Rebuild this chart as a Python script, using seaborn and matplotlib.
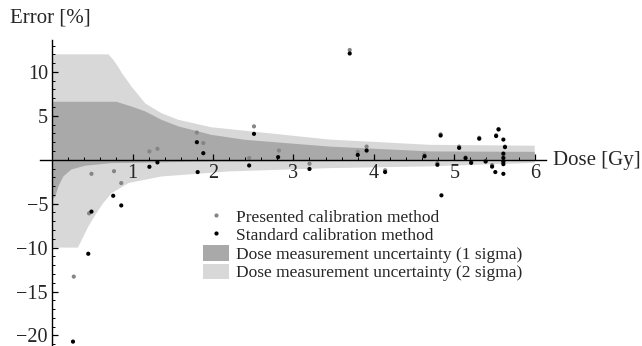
import matplotlib
matplotlib.use("Agg")
import matplotlib.pyplot as plt
from matplotlib.lines import Line2D
from matplotlib.patches import Patch
from matplotlib.ticker import MultipleLocator
import pandas as pd
import seaborn as sns

# presented calibration method (grey points)
presented_dose = [0.27, 0.46, 0.49, 0.77, 0.86, 1.21, 1.31, 1.80, 1.88, 2.45, 2.51,
                  2.82, 3.20, 3.70, 3.80, 3.91, 4.14, 4.63, 4.79, 4.83, 5.06, 5.14,
                  5.21, 5.31, 5.39, 5.47, 5.52, 5.55, 5.61, 5.63, 5.61]
presented_err = [-13.3, -6.1, -1.6, -1.3, -2.65, 0.95, 1.25, 3.1, 1.9, 0.2, 3.8,
                 1.05, -0.45, 12.5, 0.9, 1.5, -1.2, 0.6, -0.4, 2.9, 1.5, 0.3,
                 -0.2, 2.5, -0.1, -0.6, 2.8, 3.5, 0.4, 1.5, -0.3]

# standard calibration method (black points)
standard_dose = [0.26, 0.45, 0.49, 0.76, 0.86, 1.21, 1.31, 1.80, 1.81, 1.88, 2.45,
                 2.51, 2.81, 3.20, 3.70, 3.80, 3.91, 4.14, 4.63, 4.79, 4.83, 4.84,
                 5.06, 5.14, 5.21, 5.31, 5.39, 5.47, 5.51, 5.52, 5.55, 5.61, 5.63,
                 5.61, 5.61, 5.61, 5.61, 5.61]
standard_err = [-20.7, -10.7, -5.9, -4.1, -5.2, -0.8, -0.3, 2.0, -1.4, 0.75, -0.65,
                2.95, 0.3, -1.05, 12.1, 0.55, 1.05, -1.4, 0.4, -0.57, 2.76, -4.05,
                1.35, 0.19, -0.35, 2.4, -0.2, -0.78, -1.4, 2.7, 3.45, 2.3, 1.44,
                0.7, 0.2, -0.2, -0.5, -1.6]

# uncertainty band edges
sig2_up_dose = [0.0, 0.70, 0.76, 0.82, 0.87, 0.99, 1.16, 1.36, 1.57, 1.98, 2.40, 3.45, 4.70, 6.0]
sig2_up_err = [12.0, 12.0, 11.4, 10.6, 9.85, 8.3, 6.4, 5.3, 4.55, 3.7, 3.3, 2.3, 1.7, 1.6]
sig2_lo_dose = [0.0, 0.32, 0.37, 0.45, 0.53, 0.63, 0.74, 0.95, 1.36, 2.19, 3.45, 4.70, 6.0]
sig2_lo_err = [-10.0, -10.0, -9.1, -7.6, -6.4, -5.0, -3.8, -2.65, -1.9, -1.33, -0.95, -0.75, -0.35]

sig1_up_dose = [0.0, 0.80, 0.99, 1.16, 1.36, 1.57, 1.98, 2.40, 3.45, 4.70, 6.0]
sig1_up_err = [6.6, 6.6, 6.06, 5.5, 4.55, 3.8, 2.84, 2.27, 1.5, 0.95, 0.9]
sig1_lo_dose = [0.0, 0.04, 0.08, 0.14, 0.24, 0.41, 0.74, 2.0, 6.0]
sig1_lo_err = [-4.6, -4.2, -3.0, -1.9, -1.1, -0.68, -0.38, -0.2, -0.1]

light = "#d8d8d8"
dark = "#a9a9a9"

sns.set_style("white")
plt.rcParams["font.family"] = ["Liberation Serif", "DejaVu Serif"]

fig = plt.figure(figsize=(6.42, 3.46), dpi=100)
ax = fig.add_axes([40 / 642, 0.0, 506 / 642, 1 - 40.3 / 346])
ax.set_axisbelow(False)

# bands drawn as polygons
ax.fill(sig2_up_dose + sig2_lo_dose[::-1], sig2_up_err + sig2_lo_err[::-1],
        color=light, lw=0, zorder=1)
ax.fill(sig1_up_dose + sig1_lo_dose[::-1], sig1_up_err + sig1_lo_err[::-1],
        color=dark, lw=0, zorder=1.5)

df_p = pd.DataFrame({"dose": presented_dose, "err": presented_err})
df_s = pd.DataFrame({"dose": standard_dose, "err": standard_err})
sns.scatterplot(data=df_p, x="dose", y="err", color="#858585", s=9,
                edgecolor="none", ax=ax, zorder=4)
sns.scatterplot(data=df_s, x="dose", y="err", color="black", s=9,
                edgecolor="none", ax=ax, zorder=5)

ax.set_xlim(-0.15, 6.14)
ax.set_ylim(-21.2, 13.6)

for side in ["top", "right"]:
    ax.spines[side].set_visible(False)
ax.spines["left"].set_position(("data", 0))
ax.spines["bottom"].set_position(("data", 0))
for side in ["left", "bottom"]:
    ax.spines[side].set_linewidth(1.0)
    ax.spines[side].set_color("black")
    ax.spines[side].set_zorder(6)

ax.set_xticks([1, 2, 3, 4, 5, 6])
ax.set_yticks([-20, -15, -10, -5, 5, 10])
ax.xaxis.set_minor_locator(MultipleLocator(0.2))
ax.yaxis.set_minor_locator(MultipleLocator(1))
ax.tick_params(axis="both", which="major", direction="in", length=4.5, width=0.9,
               labelsize=14.5, color="black", pad=3)
ax.tick_params(axis="both", which="minor", direction="in", length=2.5, width=0.7,
               color="black")
ax.tick_params(axis="x", which="both", bottom=True)
ax.tick_params(axis="y", which="both", left=True)
ax.set_xlabel("")
ax.set_ylabel("")
ax.grid(False)

fig.text(10 / 642, 1 - 18 / 346, "Error [%]", fontsize=15, va="center", ha="left")
fig.text(553 / 642, 1 - 160 / 346, "Dose [Gy]", fontsize=15, va="center", ha="left")

handles = [
    Line2D([], [], ls="none", marker="o", ms=3, color="#858585", mec="none"),
    Line2D([], [], ls="none", marker="o", ms=3, color="black", mec="none"),
    Patch(facecolor=dark, edgecolor="none"),
    Patch(facecolor=light, edgecolor="none"),
]
labels = ["Presented calibration method", "Standard calibration method",
          "Dose measurement uncertainty (1 sigma)",
          "Dose measurement uncertainty (2 sigma)"]
fig.legend(handles, labels, loc="upper left", bbox_to_anchor=(203 / 642, 1 - 208 / 346),
           frameon=False, fontsize=12.5, handlelength=1.5, handleheight=1.0,
           handletextpad=0.4, labelspacing=0.05, borderpad=0, borderaxespad=0)

fig.savefig("out.png", dpi=100)
